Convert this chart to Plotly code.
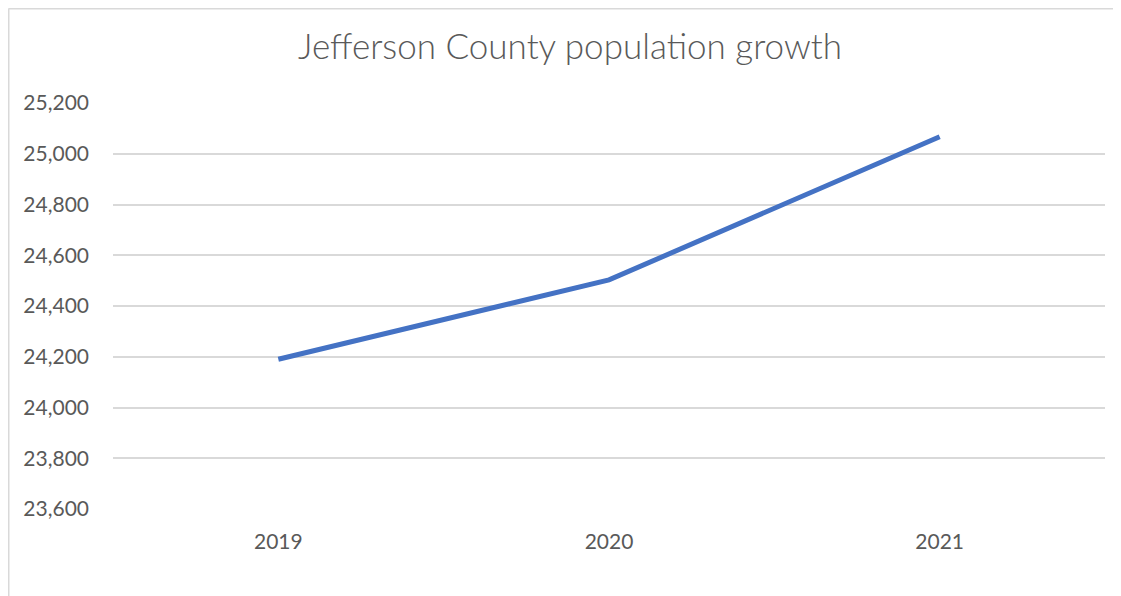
import plotly.graph_objects as go

years = ["2019", "2020", "2021"]
population = [24190, 24503, 25067]
y_ticks = [23600, 23800, 24000, 24200, 24400, 24600, 24800, 25000, 25200]

OFF = 8  # browser body margin
W, H = 1121 - OFF, 596 - OFF
L, R, T, B = 113 - OFF, 16, 103 - OFF, 87
pw, ph = W - L - R, H - T - B

fig = go.Figure()
fig.add_trace(go.Scatter(
    x=years, y=population, mode="lines",
    line=dict(color="#4472C4", width=5),
    hoverinfo="x+y",
))

font = "Lato, Calibri, Carlito, sans-serif"
fig.update_layout(
    width=W, height=H,
    margin=dict(l=L, r=R, t=T, b=B),
    paper_bgcolor="white", plot_bgcolor="white",
    showlegend=False,
    title=dict(text="Jefferson County population growth",
               x=(570 - OFF) / W, xanchor="center", y=1 - (47 - OFF) / H, yanchor="middle",
               font=dict(family=font, size=35, color="#595959", weight=300)),
    xaxis=dict(type="category", range=[-0.5, 2.5], showgrid=False, zeroline=False,
               showline=False, ticks="",
               tickfont=dict(family=font, size=21, color="#595959"),
               ticklabelstandoff=18),
    yaxis=dict(range=[23600, 25200], tickvals=y_ticks,
               tickformat=",d", showgrid=True, gridcolor="#d9d9d9",
               gridwidth=1.5, zeroline=False, showline=False, ticks="",
               tickfont=dict(family=font, size=21, color="#595959"),
               ticklabelstandoff=23),
    shapes=[
        dict(type="line", xref="paper", yref="paper",
             x0=(0.5 - L) / pw, x1=(W - L) / pw + 0.01,
             y0=1 + (T - 0.5) / ph, y1=1 + (T - 0.5) / ph,
             line=dict(color="#d9d9d9", width=2)),
        dict(type="line", xref="paper", yref="paper",
             x0=(0.5 - L) / pw, x1=(0.5 - L) / pw,
             y0=1 + (T - 0.5) / ph, y1=-B / ph - 0.01,
             line=dict(color="#d9d9d9", width=2)),
    ],
)

fig.write_html("out.html")
